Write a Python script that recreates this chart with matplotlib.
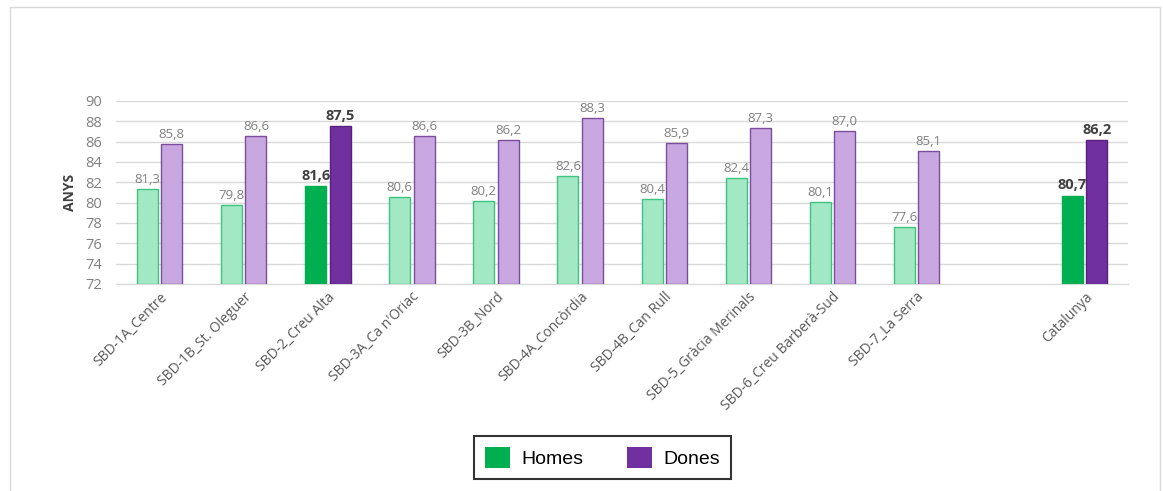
import matplotlib
matplotlib.use("Agg")
from matplotlib import pyplot
from matplotlib.patches import Rectangle, Patch

categories = [
    "SBD-1A_Centre", "SBD-1B_St. Oleguer", "SBD-2_Creu Alta", "SBD-3A_Ca n'Oriac",
    "SBD-3B_Nord", "SBD-4A_Concòrdia", "SBD-4B_Can Rull", "SBD-5_Gràcia Merinals",
    "SBD-6_Creu Barberà-Sud", "SBD-7_La Serra", "Catalunya",
]
positions = [0, 1, 2, 3, 4, 5, 6, 7, 8, 9, 11]
homes = [81.3, 79.8, 81.6, 80.6, 80.2, 82.6, 80.4, 82.4, 80.1, 77.6, 80.7]
dones = [85.8, 86.6, 87.5, 86.6, 86.2, 88.3, 85.9, 87.3, 87.0, 85.1, 86.2]
highlight = [False, False, True, False, False, False, False, False, False, False, True]

green, green_light = "#00b050", "#a3e8c4"
purple, purple_light = "#7030a0", "#c9a8e2"

fig = pyplot.figure(figsize=(11.63, 4.91), dpi=100)
fig.patches.append(Rectangle((0.009, -0.01), 0.988, 0.995, transform=fig.transFigure,
                             fill=False, edgecolor="#d9d9d9", linewidth=1))
ax = fig.add_axes([0.0997, 0.4216, 0.8706, 0.3727])

w = 0.25
for x, h, d, hl in zip(positions, homes, dones, highlight):
    if hl:
        ax.bar(x - 0.145, h - 72, w, bottom=72, color=green, edgecolor=green, zorder=3)
        ax.bar(x + 0.145, d - 72, w, bottom=72, color=purple, edgecolor="#5a2080", zorder=3)
        style = dict(color="#404040", fontweight="bold", fontsize=10.5)
    else:
        ax.bar(x - 0.145, h - 72, w, bottom=72, color=green_light, edgecolor="#3cc47f",
               linewidth=1, zorder=3)
        ax.bar(x + 0.145, d - 72, w, bottom=72, color=purple_light, edgecolor="#7a4e9a",
               linewidth=1, zorder=3)
        style = dict(color="#808080", fontsize=9.5)
    ax.text(x - 0.145, h + 0.3, f"{h:.1f}".replace(".", ","), ha="center", va="bottom",
            family="Open Sans", zorder=4, **style)
    ax.text(x + 0.145, d + 0.3, f"{d:.1f}".replace(".", ","), ha="center", va="bottom",
            family="Open Sans", zorder=4, **style)

ax.set_xlim(-0.52, 11.52)
ax.set_ylim(72, 90)
ax.set_yticks(range(72, 91, 2))
ax.yaxis.grid(True, color="#d9d9d9", linewidth=1, zorder=0)
ax.set_axisbelow(True)
for s in ["top", "right", "left"]:
    ax.spines[s].set_visible(False)
ax.spines["bottom"].set_color("#d9d9d9")
ax.tick_params(axis="y", length=0, labelsize=10.5, labelcolor="#808080", pad=10)
ax.tick_params(axis="x", length=0, labelsize=10, labelcolor="#595959", pad=4)
ax.set_xticks(positions)
ax.set_xticklabels(categories, rotation=45, ha="right", rotation_mode="anchor",
                   family="Open Sans")
for lab in ax.get_yticklabels():
    lab.set_family("Open Sans")
ax.set_ylabel("ANYS", fontsize=10, fontweight="bold", color="#404040", family="Open Sans",
              labelpad=6)

handles = [Patch(facecolor=green, label="Homes"), Patch(facecolor=purple, label="Dones")]
leg = fig.legend(handles=handles, loc="center", bbox_to_anchor=(0.518, 0.068), ncol=2,
                 frameon=True, fancybox=False, edgecolor="black",
                 prop={"family": "Liberation Sans", "size": 14},
                 handlelength=1.3, handleheight=1.3, columnspacing=2.2,
                 borderpad=0.55, handletextpad=0.6)
leg.get_frame().set_linewidth(1.5)

fig.savefig("out.png", dpi=100)
